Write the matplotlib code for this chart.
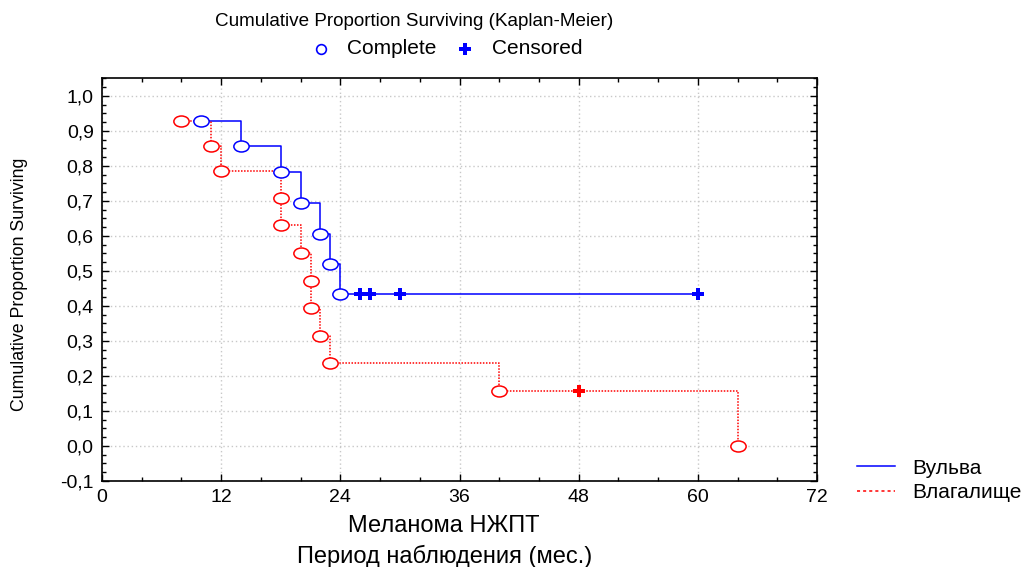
import numpy as np
import matplotlib
matplotlib.use('Agg')
import matplotlib.pyplot as plt
from matplotlib.path import Path
from matplotlib.ticker import MultipleLocator, FuncFormatter

plt.rcParams['font.family'] = ['Liberation Sans', 'DejaVu Sans']

# Вульва (blue)
vulva_t = [10, 14, 18, 20, 22, 23, 24, 26, 27, 30, 60]
vulva_s = [0.929, 0.857, 0.783, 0.694, 0.606, 0.520, 0.434, 0.434, 0.434, 0.434, 0.434]
vulva_cens = [0, 0, 0, 0, 0, 0, 0, 1, 1, 1, 1]

# Влагалище (red)
vag_t = [8, 11, 12, 18, 18, 20, 21, 21, 22, 23, 40, 48, 64]
vag_s = [0.929, 0.857, 0.786, 0.708, 0.630, 0.551, 0.472, 0.393, 0.315, 0.236, 0.157, 0.157, 0.0]
vag_cens = [0, 0, 0, 0, 0, 0, 0, 0, 0, 0, 0, 1, 0]

W, H = 1028, 567
fig = plt.figure(figsize=(W / 100, H / 100), dpi=100)
ax = fig.add_axes([102 / W, 1 - 481 / H, (817 - 102) / W, (481 - 78) / H])

# wide ellipse marker like the original
circ = Path.unit_circle()
ell = Path(circ.vertices * np.array([1.0, 0.72]), circ.codes)

series = [
    (vulva_t, vulva_s, vulva_cens, '#0000ff', '-'),
    (vag_t, vag_s, vag_cens, '#ff0000', (0, (1, 1))),
]
for t, s, c, col, ls in series:
    t = np.array(t)
    s = np.array(s)
    c = np.array(c, dtype=bool)
    ax.step(t, s, where='post', color=col, linestyle=ls, linewidth=1.1, zorder=2)
    ax.plot(t[~c], s[~c], linestyle='none', marker=ell, markersize=11,
            markerfacecolor='white', markeredgecolor=col, markeredgewidth=1.1, zorder=3)
    ax.plot(t[c], s[c], linestyle='none', marker='P', markersize=8,
            color=col, markeredgewidth=0, zorder=3)

ax.set_xlim(0, 72)
ax.set_ylim(-0.1, 1.0514)
ax.xaxis.set_major_locator(MultipleLocator(12))
ax.xaxis.set_minor_locator(MultipleLocator(4))
ax.yaxis.set_major_locator(MultipleLocator(0.1))
ax.yaxis.set_minor_locator(MultipleLocator(0.025))
ax.yaxis.set_major_formatter(FuncFormatter(lambda v, p: f'{v:.1f}'.replace('.', ',').replace('-0,0', '0,0')))
ax.tick_params(which='both', direction='in', top=True, right=True, labelsize=14, width=1)
ax.tick_params(which='major', length=5, pad=6)
ax.tick_params(which='minor', length=3)
for sp in ax.spines.values():
    sp.set_linewidth(1.2)
ax.grid(True, which='major', color='#c8c8c8', linestyle=(0, (1, 2)), linewidth=1, zorder=0)
ax.set_axisbelow(True)

def fx(x):
    return x / W

def fy(y):
    return 1 - y / H

fig.text(fx(20), fy(284), 'Cumulative Proportion Surviving', fontsize=12.8, rotation=90,
         family=['Liberation Sans Narrow', 'Liberation Sans'], ha='center', va='center')

fig.text(fx(414), fy(22), 'Cumulative Proportion Surviving (Kaplan-Meier)',
         fontsize=13.6, ha='center', va='center')
fig.lines.append(plt.Line2D([fx(321)], [fy(49)], transform=fig.transFigure,
                            marker='o', markersize=7, markerfacecolor='white',
                            markeredgecolor='#0000ff', markeredgewidth=1.2))
fig.text(fx(347), fy(49), 'Complete', fontsize=15, ha='left', va='center')
fig.lines.append(plt.Line2D([fx(465)], [fy(49)], transform=fig.transFigure,
                            marker='P', markersize=8, color='#0000ff', markeredgewidth=0))
fig.text(fx(492), fy(49), 'Censored', fontsize=15, ha='left', va='center')

fig.text(fx(444), fy(526), 'Меланома НЖПТ', fontsize=17, ha='center', va='center')
fig.text(fx(445), fy(556), 'Период наблюдения (мес.)', fontsize=17, ha='center', va='center')

# series legend on the right
fig.lines.append(plt.Line2D([fx(857), fx(895)], [fy(466), fy(466)], transform=fig.transFigure,
                            color='#0000ff', linewidth=1.1))
fig.text(fx(912), fy(469), 'Вульва', fontsize=15, ha='left', va='center')
fig.lines.append(plt.Line2D([fx(857), fx(895)], [fy(491), fy(491)], transform=fig.transFigure,
                            color='#ff0000', linewidth=1.1, linestyle=(0, (2, 2))))
fig.text(fx(912), fy(493), 'Влагалище', fontsize=15, ha='left', va='center')

fig.savefig('out.png', dpi=100)
